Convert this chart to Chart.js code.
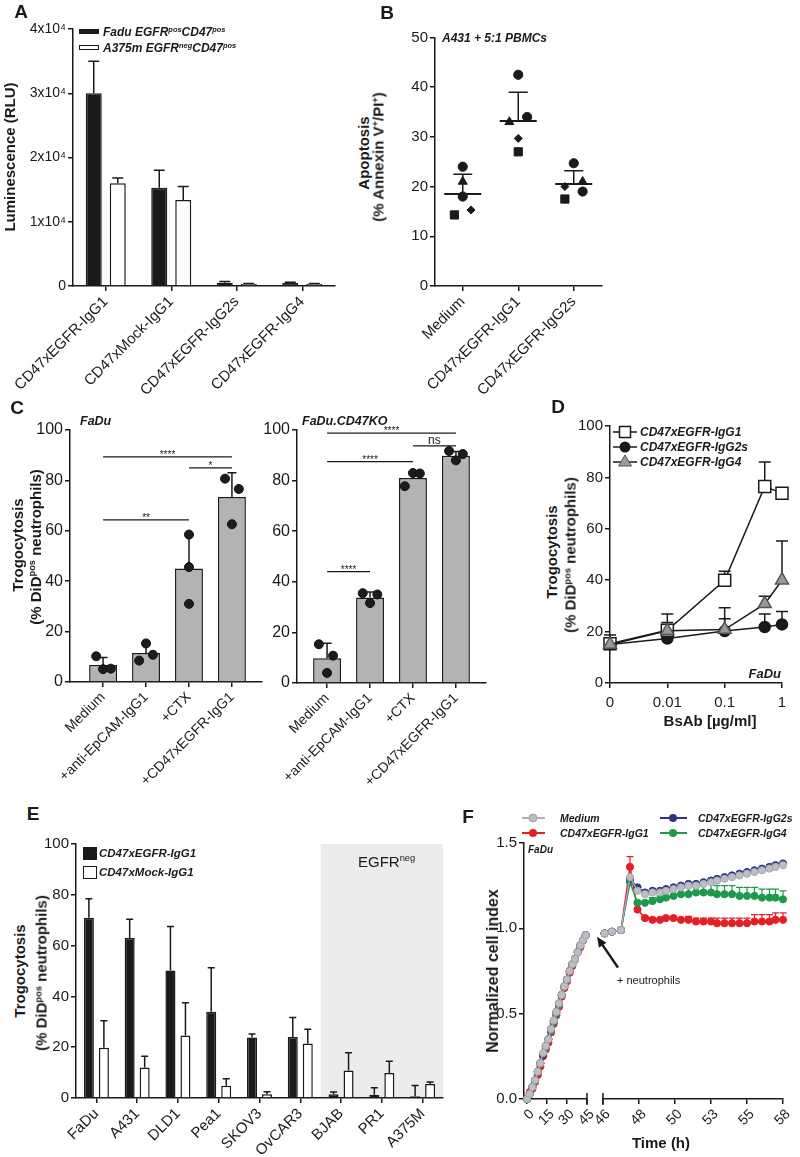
<!DOCTYPE html>
<html>
<head>
<meta charset="utf-8">
<script src="https://cdn.jsdelivr.net/npm/chart.js@4.4.1/dist/chart.umd.min.js"></script>
<style>
  body { margin: 0; background: #fff; }
  #stage { position: relative; width: 800px; height: 1157px; overflow: hidden;
           font-family: "Liberation Sans", Arial, sans-serif; color: #1a1a1a; }
  canvas { position: absolute; }
  .t { position: absolute; white-space: nowrap; line-height: 1; }
  .c { transform: translate(-50%, -50%); }
  .l { transform: translate(0, -50%); }
  .r { transform: translate(-100%, -50%); }
  .v { transform: translate(-50%, -50%) rotate(-90deg); }
  .pl { font-weight: bold; font-size: 19px; }
  .b { font-weight: bold; }
  .bi { font-weight: bold; font-style: italic; }
  .box { position: absolute; box-sizing: border-box; }
  sup { font-size: 0.62em; vertical-align: 0.55em; line-height: 0; }
  svg { position: absolute; }
</style>
</head>
<body>
<div id="stage">
  <canvas id="chartA"></canvas>
  <canvas id="chartB"></canvas>
  <canvas id="chartC1"></canvas>
  <canvas id="chartC2"></canvas>
  <canvas id="chartD"></canvas>
  <canvas id="chartE"></canvas>
  <canvas id="chartF1"></canvas>
  <canvas id="chartF2"></canvas>

  <!-- panel letters -->
  <div class="t c pl" style="left:21px;top:11px">A</div>
  <div class="t c pl" style="left:387px;top:12px">B</div>
  <div class="t c pl" style="left:17px;top:407px">C</div>
  <div class="t c pl" style="left:558px;top:406px">D</div>
  <div class="t c pl" style="left:33px;top:813px">E</div>
  <div class="t c pl" style="left:468px;top:816px">F</div>

  <!-- A -->
  <div class="box" style="left:79px;top:29px;width:20px;height:5px;background:#1a1a1a"></div>
  <div class="t l bi" style="left:103px;top:32px;font-size:12px">Fadu EGFR<sup>pos</sup>CD47<sup>pos</sup></div>
  <div class="box" style="left:79px;top:45px;width:20px;height:5px;background:#fff;border:1px solid #1a1a1a"></div>
  <div class="t l bi" style="left:103px;top:48px;font-size:12px">A375m EGFR<sup>neg</sup>CD47<sup>pos</sup></div>
  <div class="t v b" style="left:9px;top:157px;font-size:15px">Luminescence (RLU)</div>

  <!-- B -->
  <div class="t l bi" style="left:442px;top:38px;font-size:12px">A431 + 5:1 PBMCs</div>
  <div class="t v b" style="left:363px;top:153px;font-size:15px">Apoptosis</div>
  <div class="t v b" style="left:378px;top:157px;font-size:15px">(% Annexin V<sup>+</sup>/PI<sup>+</sup>)</div>

  <!-- C -->
  <div class="t l bi" style="left:80px;top:421px;font-size:12.5px">FaDu</div>
  <div class="t l bi" style="left:302px;top:421px;font-size:12.5px">FaDu.CD47KO</div>
  <div class="t v b" style="left:17px;top:545px;font-size:15px">Trogocytosis</div>
  <div class="t v b" style="left:35px;top:547px;font-size:15px">(% DiD<sup>pos</sup> neutrophils)</div>

  <!-- D -->
  <svg style="left:611px;top:424px" width="28" height="46">
    <line x1="2" y1="8" x2="26" y2="8" stroke="#1a1a1a" stroke-width="1.5"/>
    <rect x="8.5" y="2.5" width="11" height="11" fill="#fff" stroke="#1a1a1a" stroke-width="1.5"/>
    <line x1="2" y1="23" x2="26" y2="23" stroke="#1a1a1a" stroke-width="1.5"/>
    <circle cx="14" cy="23" r="5.5" fill="#1a1a1a"/>
    <line x1="2" y1="38" x2="26" y2="38" stroke="#1a1a1a" stroke-width="1.5"/>
    <polygon points="14,31 20.5,42 7.5,42" fill="#9a9a9a" stroke="#555" stroke-width="1"/>
  </svg>
  <div class="t l bi" style="left:640px;top:432px;font-size:12px">CD47xEGFR-IgG1</div>
  <div class="t l bi" style="left:640px;top:447px;font-size:12px">CD47xEGFR-IgG2s</div>
  <div class="t l bi" style="left:640px;top:462px;font-size:12px">CD47xEGFR-IgG4</div>
  <div class="t r bi" style="left:781px;top:673px;font-size:13px">FaDu</div>
  <div class="t c b" style="left:710px;top:720px;font-size:15px">BsAb [µg/ml]</div>
  <div class="t v b" style="left:551px;top:552px;font-size:15px">Trogocytosis</div>
  <div class="t v b" style="left:570px;top:555px;font-size:15px">(% DiD<sup>pos</sup> neutrophils)</div>

  <!-- E -->
  <div class="box" style="left:83px;top:847px;width:14px;height:13px;background:#1a1a1a"></div>
  <div class="t l bi" style="left:99px;top:854px;font-size:11.5px">CD47xEGFR-IgG1</div>
  <div class="box" style="left:83px;top:866px;width:14px;height:13px;background:#fff;border:1.5px solid #1a1a1a"></div>
  <div class="t l bi" style="left:99px;top:873px;font-size:11.5px">CD47xMock-IgG1</div>
  <div class="t l" style="left:358px;top:861px;font-size:15px">EGFR<sup>neg</sup></div>
  <div class="t v b" style="left:19px;top:971px;font-size:15px">Trogocytosis</div>
  <div class="t v b" style="left:41px;top:973px;font-size:15px">(% DiD<sup>pos</sup> neutrophils)</div>

  <!-- F -->
  <svg style="left:520px;top:810px" width="30" height="32">
    <line x1="2" y1="8" x2="25" y2="8" stroke="#b0b0b8" stroke-width="2"/>
    <circle cx="13" cy="8" r="4" fill="#bcbcc3" stroke="#a0a0a8"/>
    <line x1="2" y1="23" x2="25" y2="23" stroke="#e32028" stroke-width="2"/>
    <circle cx="13" cy="23" r="4" fill="#e32028"/>
  </svg>
  <svg style="left:658px;top:810px" width="32" height="32">
    <line x1="2" y1="8" x2="29" y2="8" stroke="#2e3486" stroke-width="2"/>
    <circle cx="15" cy="8" r="4" fill="#2e3486"/>
    <line x1="2" y1="23" x2="29" y2="23" stroke="#1b9a4b" stroke-width="2"/>
    <circle cx="15" cy="23" r="4" fill="#1b9a4b"/>
  </svg>
  <div class="t l bi" style="left:560px;top:818px;font-size:10.5px">Medium</div>
  <div class="t l bi" style="left:560px;top:833px;font-size:10.5px">CD47xEGFR-IgG1</div>
  <div class="t l bi" style="left:698px;top:818px;font-size:10.5px">CD47xEGFR-IgG2s</div>
  <div class="t l bi" style="left:698px;top:833px;font-size:10.5px">CD47xEGFR-IgG4</div>
  <div class="t l bi" style="left:528px;top:850px;font-size:10px">FaDu</div>
  <div class="t l" style="left:617px;top:980px;font-size:11px">+ neutrophils</div>
  <div class="t c b" style="left:661px;top:1142px;font-size:15px">Time (h)</div>
  <div class="t v b" style="left:493px;top:971px;font-size:16px">Normalized cell index</div>
</div>

<script>
const INK = "#1a1a1a";
Chart.defaults.font.family = '"Liberation Sans", Arial, sans-serif';
Chart.defaults.color = INK;

// ---- A: luminescence ----
const aCats = ["CD47xEGFR-IgG1", "CD47xMock-IgG1", "CD47xEGFR-IgG2s", "CD47xEGFR-IgG4"];
const aFadu = [30000, 15300, 500, 450];
const aFaduErr = [5000, 2700, 200, 150];
const aA375 = [16000, 13400, 300, 300];
const aA375Err = [800, 2100, 80, 80];

// ---- B: apoptosis, one array per donor (symbol) ----
const bCats = ["Medium", "CD47xEGFR-IgG1", "CD47xEGFR-IgG2s"];
const bDonor1 = [24, 42.5, 24.7];   // circle
const bDonor2 = [21, 33, 21];       // triangle
const bDonor3 = [18, 34, 19];       // circle
const bDonor4 = [14.3, 27, 17.5];   // square
const bDonor5 = [15.3, 29.7, 20];   // diamond
const bJit1 = [0, 0, 0];
const bJit2 = [0, -0.16, 0.16];
const bJit3 = [0, 0.16, 0.16];
const bJit4 = [-0.15, 0, -0.16];
const bJit5 = [0.15, 0, -0.16];
const bMean = [18.5, 33.2, 20.5];
const bSem = [4, 5.8, 2.7];

// ---- C: trogocytosis bars + replicates ----
const cCats = ["Medium", "+anti-EpCAM-IgG1", "+CTX", "+CD47xEGFR-IgG1"];
const c1Bars = [6.7, 11.5, 45, 73.4];
const c1Err = [3, 3.5, 13.5, 9.6];
const c1Dots = [[10.2, 5.1, 5.3], [15.3, 8.5, 10.8], [58.5, 45.6, 31], [80.7, 76.6, 62.6]];
const c1Jit = [[-0.16, 0, 0.18], [0, -0.16, 0.16], [0, 0, 0], [-0.16, 0.16, 0]];
const c1SigFrom = [0, 2, 0];
const c1SigTo = [3, 3, 2];
const c1SigY = [89.3, 85, 64.3];
const c1SigText = ["****", "*", "**"];

const c2Bars = [9.8, 33.8, 81, 89.8];
const c2Err = [5.9, 2.2, 2.5, 1.7];
const c2Dots = [[15.3, 10.8, 4], [35.5, 35, 31.6], [83, 82.8, 77.8], [91.7, 90.5, 88]];
const c2Jit = [[-0.19, 0.14, 0], [-0.17, 0.17, 0], [0, 0.16, -0.19], [-0.16, 0.16, 0]];
const c2SigFrom = [0, 2, 0, 0];
const c2SigTo = [3, 3, 2, 1];
const c2SigY = [98.8, 93.7, 87.5, 44];
const c2SigText = ["****", "ns", "****", "****"];

// ---- D: dose response ----
const dConc = [0, 0.01, 0.1, 0.5, 1];
const dZeroAt = 0.001; // where the 0 dose sits on the log axis
const dTickVals = [0.001, 0.01, 0.1, 1];
const dTickText = ["0", "0.01", "0.1", "1"];
const dIgG1 = [15.3, 20.5, 40, 76.5, 73.8];
const dIgG1Err = [3.4, 6.3, 3.5, 9.5, 0];
const dIgG2s = [15, 17.3, 20.2, 21.8, 22.8];
const dIgG2sErr = [1.7, 2.7, 4.8, 5, 5];
const dIgG4 = [15, 20.3, 20.8, 30.8, 40];
const dIgG4Err = [2, 3.2, 8.5, 3, 15.3];

// ---- E: cell lines ----
const eCats = ["FaDu", "A431", "DLD1", "Pea1", "SKOV3", "OvCAR3", "BJAB", "PR1", "A375M"];
const eEgfr = [71, 63, 50.2, 34, 23.8, 24, 1.5, 1.3, 0.7];
const eEgfrErr = [7.4, 7.4, 17.3, 17.3, 1.4, 7.7, 0.9, 2.7, 4.2];
const eMock = [19.8, 12, 24.6, 4.8, 1.5, 21.5, 10.8, 9.8, 5.5];
const eMockErr = [10.6, 4.4, 12.9, 2.8, 1.0, 5.6, 7, 4.7, 0.8];
const eNegFrom = "BJAB";

// ---- F: cell index over time (two axis segments) ----
const fTime1 = [0, 2, 4, 6, 8, 10, 12, 14, 16, 18, 20, 22, 24, 26, 28, 30, 32, 34, 36, 38, 40, 42, 44];
const fMedium1 = [0.00, 0.03, 0.07, 0.11, 0.16, 0.21, 0.27, 0.31, 0.35, 0.41, 0.46, 0.51, 0.56, 0.61, 0.66, 0.70, 0.75, 0.79, 0.82, 0.86, 0.90, 0.93, 0.96];
const fIgG1_1 = [0.00, 0.04, 0.06, 0.10, 0.14, 0.19, 0.25, 0.29, 0.33, 0.39, 0.44, 0.49, 0.54, 0.60, 0.65, 0.69, 0.74, 0.78, 0.82, 0.86, 0.89, 0.93, 0.96];
const fIgG2s_1 = [0.00, 0.03, 0.07, 0.11, 0.16, 0.21, 0.26, 0.31, 0.35, 0.41, 0.46, 0.51, 0.56, 0.61, 0.66, 0.70, 0.75, 0.79, 0.82, 0.86, 0.90, 0.93, 0.96];
const fIgG4_1 = [0.00, 0.03, 0.07, 0.11, 0.16, 0.21, 0.26, 0.30, 0.35, 0.40, 0.45, 0.50, 0.55, 0.61, 0.66, 0.70, 0.75, 0.79, 0.82, 0.86, 0.90, 0.93, 0.96];
const fTime2 = [46.1, 46.6, 47.2, 47.8, 48.3, 48.8, 49.3, 49.8, 50.2, 50.7, 51.2, 51.7, 52.2, 52.7, 53.2, 53.6, 54.1, 54.6, 55.1, 55.6, 56.1, 56.6, 57.1, 57.5, 58.0];
const fMedium2 = [0.97, 0.98, 0.99, 1.30, 1.22, 1.20, 1.21, 1.21, 1.22, 1.23, 1.24, 1.25, 1.25, 1.26, 1.27, 1.28, 1.29, 1.30, 1.31, 1.32, 1.33, 1.34, 1.35, 1.36, 1.37];
const fIgG2s2 = [0.97, 0.98, 0.99, 1.29, 1.24, 1.21, 1.22, 1.22, 1.23, 1.24, 1.25, 1.26, 1.26, 1.27, 1.28, 1.29, 1.30, 1.31, 1.32, 1.33, 1.34, 1.35, 1.36, 1.37, 1.38];
const fIgG4_2 = [0.97, 0.98, 0.99, 1.27, 1.15, 1.15, 1.16, 1.17, 1.18, 1.19, 1.20, 1.20, 1.21, 1.21, 1.21, 1.20, 1.20, 1.20, 1.19, 1.19, 1.19, 1.18, 1.18, 1.18, 1.17];
const fIgG1_2 = [0.97, 0.98, 0.99, 1.36, 1.11, 1.06, 1.05, 1.05, 1.06, 1.06, 1.05, 1.05, 1.04, 1.04, 1.04, 1.03, 1.03, 1.03, 1.03, 1.03, 1.04, 1.04, 1.04, 1.05, 1.05];
const fIgG1Err2 = [0, 0, 0, 0.06, 0.01, 0.01, 0.01, 0.01, 0.01, 0.01, 0.01, 0.02, 0.02, 0.02, 0.02, 0.03, 0.03, 0.03, 0.03, 0.03, 0.04, 0.04, 0.04, 0.04, 0.04];
const fIgG4Err2 = [0, 0, 0, 0.03, 0.01, 0.01, 0.02, 0.02, 0.03, 0.03, 0.04, 0.04, 0.05, 0.05, 0.05, 0.05, 0.05, 0.05, 0.05, 0.05, 0.05, 0.05, 0.05, 0.05, 0.05];
const fTicks1 = [0, 15, 30, 45];
const fTicks2 = [46, 48.4, 50.8, 53.2, 55.6, 58];
const fTickText2 = ["46", "48", "50", "53", "55", "58"];
const fArrowFrom = [47.0, 0.77];
const fArrowTo = [45.6, 0.95];

const fColors = { medium: "#b4b4bc", igg1: "#e32028", igg2s: "#2e3486", igg4: "#1b9a4b" };

// ---------- plugins ----------
const shadePlugin = {
  id: "shade",
  beforeDraw(chart, args, opts) {
    if (opts.from == null) return;
    const xs = chart.scales.x;
    const area = chart.chartArea;
    const x = (xs.getPixelForValue(opts.from - 1) + xs.getPixelForValue(opts.from)) / 2;
    chart.ctx.save();
    chart.ctx.fillStyle = opts.color;
    chart.ctx.fillRect(x, area.top, area.right - x, area.bottom - area.top);
    chart.ctx.restore();
  },
};

const errorBarsPlugin = {
  id: "errorBars",
  beforeDatasetsDraw(chart) {
    const ctx = chart.ctx;
    chart.data.datasets.forEach((ds, i) => {
      if (!ds.errUp) return;
      const meta = chart.getDatasetMeta(i);
      const ys = chart.scales[meta.yAxisID];
      const cap = ds.capW || 8;
      ctx.save();
      ctx.strokeStyle = ds.errColor || INK;
      ctx.lineWidth = ds.errWidth || 1.5;
      meta.data.forEach((el, j) => {
        const e = ds.errUp[j];
        if (!e) return;
        const d = ds.data[j];
        const v = typeof d === "object" ? d.y : d;
        const top = ys.getPixelForValue(v + e);
        ctx.beginPath();
        ctx.moveTo(el.x, el.y);
        ctx.lineTo(el.x, top);
        ctx.moveTo(el.x - cap / 2, top);
        ctx.lineTo(el.x + cap / 2, top);
        ctx.stroke();
      });
      ctx.restore();
    });
  },
};

const sigPlugin = {
  id: "sig",
  afterDatasetsDraw(chart, args, opts) {
    if (!opts.from) return;
    const xs = chart.scales.x, ys = chart.scales.y, ctx = chart.ctx;
    ctx.save();
    ctx.strokeStyle = INK;
    ctx.fillStyle = INK;
    ctx.lineWidth = 1.3;
    ctx.textAlign = "center";
    ctx.textBaseline = "alphabetic";
    opts.from.forEach((f, k) => {
      const xa = xs.getPixelForValue(f);
      const xb = xs.getPixelForValue(opts.to[k]);
      const y = ys.getPixelForValue(opts.y[k]);
      ctx.beginPath();
      ctx.moveTo(xa, y);
      ctx.lineTo(xb, y);
      ctx.stroke();
      const star = opts.text[k].includes("*");
      ctx.font = (star ? "10px" : "12px") + ' "Liberation Sans", Arial, sans-serif';
      ctx.fillText(opts.text[k], (xa + xb) / 2, star ? y + 1 : y - 2);
    });
    ctx.restore();
  },
};

const breakPlugin = {
  id: "brk",
  afterDraw(chart, args, opts) {
    if (opts.at == null) return;
    const x = chart.scales.x.getPixelForValue(opts.at);
    const y = chart.chartArea.bottom;
    const ctx = chart.ctx;
    ctx.save();
    ctx.strokeStyle = INK;
    ctx.lineWidth = 1.5;
    ctx.beginPath();
    ctx.moveTo(x, y - 6);
    ctx.lineTo(x, y + 6);
    ctx.stroke();
    ctx.restore();
  },
};

const arrowPlugin = {
  id: "arrow",
  afterDatasetsDraw(chart, args, opts) {
    if (!opts.from) return;
    const xs = chart.scales.x, ys = chart.scales.y, ctx = chart.ctx;
    const x1 = xs.getPixelForValue(opts.from[0]), y1 = ys.getPixelForValue(opts.from[1]);
    const x2 = xs.getPixelForValue(opts.to[0]), y2 = ys.getPixelForValue(opts.to[1]);
    const ang = Math.atan2(y2 - y1, x2 - x1);
    const head = 11;
    ctx.save();
    ctx.strokeStyle = INK;
    ctx.fillStyle = INK;
    ctx.lineWidth = 2.5;
    ctx.beginPath();
    ctx.moveTo(x1, y1);
    ctx.lineTo(x2 - Math.cos(ang) * head * 0.8, y2 - Math.sin(ang) * head * 0.8);
    ctx.stroke();
    ctx.beginPath();
    ctx.moveTo(x2, y2);
    ctx.lineTo(x2 - head * Math.cos(ang - 0.42), y2 - head * Math.sin(ang - 0.42));
    ctx.lineTo(x2 - head * Math.cos(ang + 0.42), y2 - head * Math.sin(ang + 0.42));
    ctx.closePath();
    ctx.fill();
    ctx.restore();
  },
};

Chart.register(shadePlugin, errorBarsPlugin, sigPlugin, breakPlugin, arrowPlugin);

// ---------- helpers ----------
function zeroPad(s) {
  s.paddingLeft = 0;
  s.paddingRight = 0;
  s.paddingTop = 0;
  s.paddingBottom = 0;
}

function yLin(min, max, step, size, fmt) {
  const ticks = { stepSize: step, font: { size }, color: INK, padding: 2 };
  if (fmt) ticks.callback = fmt;
  return {
    min, max, ticks,
    grid: { drawOnChartArea: false, color: INK, lineWidth: 1.5, tickLength: 5 },
    border: { color: INK, width: 1.5 },
  };
}

function xAxis(size, extra) {
  return Object.assign({
    grid: { drawOnChartArea: false, offset: false, color: INK, lineWidth: 1.5, tickLength: 5 },
    border: { color: INK, width: 1.5 },
    ticks: { font: { size }, color: INK, minRotation: 45, maxRotation: 45, autoSkip: false, padding: 2 },
  }, extra);
}

function fixedTicks(values) {
  return (s) => { s.ticks = values.map((v) => ({ value: v })); };
}

function makeChart(id, box, config) {
  const c = document.getElementById(id);
  c.width = box.x1 - box.x0 + box.l + box.r;
  c.height = box.y1 - box.y0 + box.t + box.b;
  c.style.left = (box.x0 - box.l) + "px";
  c.style.top = (box.y0 - box.t) + "px";
  const o = config.options;
  o.responsive = false;
  o.animation = false;
  o.devicePixelRatio = 1;
  o.events = [];
  o.layout = { padding: { left: box.noY ? box.l : 0, top: box.t, right: box.r, bottom: 0 } };
  o.plugins = Object.assign({ legend: { display: false }, tooltip: { enabled: false } }, o.plugins);
  o.scales.x.afterFit = (s) => { s.height = box.b; zeroPad(s); };
  if (!box.noY) o.scales.y.afterFit = (s) => { s.width = box.l; zeroPad(s); };
  return new Chart(c, config);
}

function groupPoints(groups, jit) {
  const pts = [];
  groups.forEach((g, i) => g.forEach((v, k) => pts.push({ x: i + jit[i][k], y: v })));
  return pts;
}

function series(xs, ys) {
  return xs.map((x, i) => ({ x, y: ys[i] }));
}

// ---------- A ----------
makeChart("chartA", { x0: 73, y0: 29, x1: 335, y1: 286, l: 73, t: 12, r: 12, b: 120 }, {
  type: "bar",
  data: {
    labels: aCats,
    datasets: [
      { data: aFadu, errUp: aFaduErr, capW: 11, backgroundColor: INK, borderColor: INK, borderWidth: 1.5,
        categoryPercentage: 0.733, barPercentage: 0.667 },
      { data: aA375, errUp: aA375Err, capW: 11, backgroundColor: "#fff", borderColor: INK, borderWidth: 1.5,
        categoryPercentage: 0.733, barPercentage: 0.667 },
    ],
  },
  options: {
    scales: {
      x: xAxis(15),
      y: yLin(0, 40000, 10000, 14, (v) => (v === 0 ? "0" : v / 10000 + "x10⁴")),
    },
  },
});

// ---------- B ----------
function donor(vals, jit, style, r) {
  return {
    data: vals.map((v, i) => ({ x: i + jit[i], y: v })),
    pointStyle: style, pointRadius: r, pointBackgroundColor: INK, pointBorderColor: INK, pointBorderWidth: 1,
    clip: false,
  };
}
makeChart("chartB", { x0: 435, y0: 29, x1: 607, y1: 286, l: 50, t: 12, r: 15, b: 120 }, {
  type: "scatter",
  data: {
    datasets: [
      donor(bDonor1, bJit1, "circle", 4.6),
      donor(bDonor2, bJit2, "triangle", 5.2),
      donor(bDonor3, bJit3, "circle", 4.6),
      donor(bDonor4, bJit4, "rect", 5.8),
      donor(bDonor5, bJit5, "rectRot", 4),
      { data: bMean.map((m, i) => ({ x: i, y: m })), errUp: bSem, capW: 19,
        pointStyle: "line", pointRadius: 18.5, pointBorderColor: INK, pointBorderWidth: 2, clip: false },
    ],
  },
  options: {
    scales: {
      x: xAxis(15, { type: "linear", min: -0.5, max: 2.5, afterBuildTicks: fixedTicks([0, 1, 2]) }),
      y: yLin(0, 50, 10, 15),
    },
  },
});
Chart.getChart("chartB").options.scales.x.ticks.callback = (v, i) => bCats[i];
Chart.getChart("chartB").update();

// ---------- C ----------
function trogoChart(id, box, bars, err, dots, jit, sig, xmin, xmax) {
  makeChart(id, box, {
    type: "bar",
    data: {
      datasets: [
        { type: "bar", order: 1, data: bars.map((v, i) => ({ x: i, y: v })), errUp: err, capW: 9,
          backgroundColor: "#b3b3b3", borderColor: INK, borderWidth: 1.5, barPercentage: 0.65, categoryPercentage: 1 },
        { type: "scatter", order: 0, data: groupPoints(dots, jit), pointRadius: 4.5, pointBackgroundColor: "#1c1c1c",
          pointBorderColor: "#111", pointBorderWidth: 1, clip: false },
      ],
    },
    options: {
      plugins: { sig },
      scales: {
        x: xAxis(14, { type: "linear", offset: false, min: xmin, max: xmax, afterBuildTicks: fixedTicks([0, 1, 2, 3]) }),
        y: yLin(0, 100, 20, 16),
      },
    },
  });
  const ch = Chart.getChart(id);
  ch.options.scales.x.ticks.callback = (v, i) => cCats[i];
  ch.update();
}
trogoChart("chartC1", { x0: 70, y0: 430, x1: 262, y1: 682, l: 42, t: 12, r: 8, b: 115 },
  c1Bars, c1Err, c1Dots, c1Jit,
  { from: c1SigFrom, to: c1SigTo, y: c1SigY, text: c1SigText }, -0.77, 3.7);
trogoChart("chartC2", { x0: 297, y0: 430, x1: 486, y1: 683, l: 40, t: 12, r: 10, b: 115 },
  c2Bars, c2Err, c2Dots, c2Jit,
  { from: c2SigFrom, to: c2SigTo, y: c2SigY, text: c2SigText }, -0.7, 3.7);

// ---------- D ----------
const dX = dConc.map((c) => (c > 0 ? c : dZeroAt));
function doseSet(vals, err, style, r, fill, stroke, order) {
  return {
    data: series(dX, vals), errUp: err, capW: 12, showLine: true, order,
    borderColor: INK, borderWidth: 1.5,
    pointStyle: style, pointRadius: r, pointBackgroundColor: fill, pointBorderColor: stroke, pointBorderWidth: 1.5,
    clip: false,
  };
}
makeChart("chartD", { x0: 610, y0: 426, x1: 782, y1: 683, l: 40, t: 12, r: 14, b: 30 }, {
  type: "scatter",
  data: {
    datasets: [
      doseSet(dIgG1, dIgG1Err, "rect", 8.5, "#fff", INK, 1),
      doseSet(dIgG2s, dIgG2sErr, "circle", 5.5, INK, INK, 2),
      doseSet(dIgG4, dIgG4Err, "triangle", 7.5, "#9a9a9a", "#555", 0),
    ],
  },
  options: {
    scales: {
      x: xAxis(15, {
        type: "logarithmic", min: dTickVals[0], max: 1, afterBuildTicks: fixedTicks(dTickVals),
        ticks: { font: { size: 15 }, color: INK, minRotation: 0, maxRotation: 0, autoSkip: false, padding: 6,
                 callback: (v, i) => dTickText[i] },
      }),
      y: yLin(0, 100, 20, 15),
    },
  },
});

// ---------- E ----------
makeChart("chartE", { x0: 76, y0: 844, x1: 443, y1: 1098, l: 40, t: 10, r: 12, b: 70 }, {
  type: "bar",
  data: {
    labels: eCats,
    datasets: [
      { data: eEgfr, errUp: eEgfrErr, capW: 7, backgroundColor: INK, borderColor: INK, borderWidth: 1.5,
        categoryPercentage: 0.736, barPercentage: 0.667 },
      { data: eMock, errUp: eMockErr, capW: 7, backgroundColor: "#fff", borderColor: INK, borderWidth: 1.5,
        categoryPercentage: 0.736, barPercentage: 0.667 },
    ],
  },
  options: {
    plugins: { shade: { from: eCats.indexOf(eNegFrom), color: "#ececec" } },
    scales: { x: xAxis(15), y: yLin(0, 100, 20, 15) },
  },
});

// ---------- F ----------
function cellSet(xs, ys, color, fill, order, err) {
  return {
    data: series(xs, ys), showLine: true, order,
    borderColor: color, borderWidth: 1.5,
    pointRadius: 3.6, pointBackgroundColor: fill, pointBorderColor: color, pointBorderWidth: 1,
    errUp: err, errColor: color, errWidth: 1.2, capW: 7, clip: false,
  };
}
const fY = () => yLin(0, 1.5, 0.5, 15, (v) => v.toFixed(1));

makeChart("chartF1", { x0: 524, y0: 843, x1: 587, y1: 1099, l: 40, t: 10, r: 12, b: 45 }, {
  type: "scatter",
  data: {
    datasets: [
      cellSet(fTime1, fMedium1, "#a9a9b1", "#bdbdc4", 0),
      cellSet(fTime1, fIgG2s_1, fColors.igg2s, fColors.igg2s, 1),
      cellSet(fTime1, fIgG4_1, fColors.igg4, fColors.igg4, 2),
      cellSet(fTime1, fIgG1_1, fColors.igg1, fColors.igg1, 3),
    ],
  },
  options: {
    plugins: { brk: { at: 45 } },
    scales: {
      x: xAxis(14, { type: "linear", min: -2.3, max: 45, afterBuildTicks: fixedTicks(fTicks1) }),
      y: fY(),
    },
  },
});
Chart.getChart("chartF1").options.scales.x.ticks.labelOffset = 5;
Chart.getChart("chartF1").update();

makeChart("chartF2", { x0: 603, y0: 843, x1: 783, y1: 1099, l: 16, t: 10, r: 12, b: 45, noY: true }, {
  type: "scatter",
  data: {
    datasets: [
      cellSet(fTime2, fMedium2, "#a9a9b1", "#bdbdc4", 0),
      cellSet(fTime2, fIgG2s2, fColors.igg2s, fColors.igg2s, 1),
      cellSet(fTime2, fIgG4_2, fColors.igg4, fColors.igg4, 2, fIgG4Err2),
      cellSet(fTime2, fIgG1_2, fColors.igg1, fColors.igg1, 3, fIgG1Err2),
    ],
  },
  options: {
    plugins: { brk: { at: 46 }, arrow: { from: fArrowFrom, to: fArrowTo } },
    scales: {
      x: xAxis(14, { type: "linear", min: 46, max: 58, afterBuildTicks: fixedTicks(fTicks2) }),
      y: Object.assign(fY(), { display: false }),
    },
  },
});
const f2 = Chart.getChart("chartF2");
f2.options.scales.x.ticks.callback = (v, i) => fTickText2[i];
f2.options.scales.x.ticks.labelOffset = 5;
f2.update();
</script>
</body>
</html>
